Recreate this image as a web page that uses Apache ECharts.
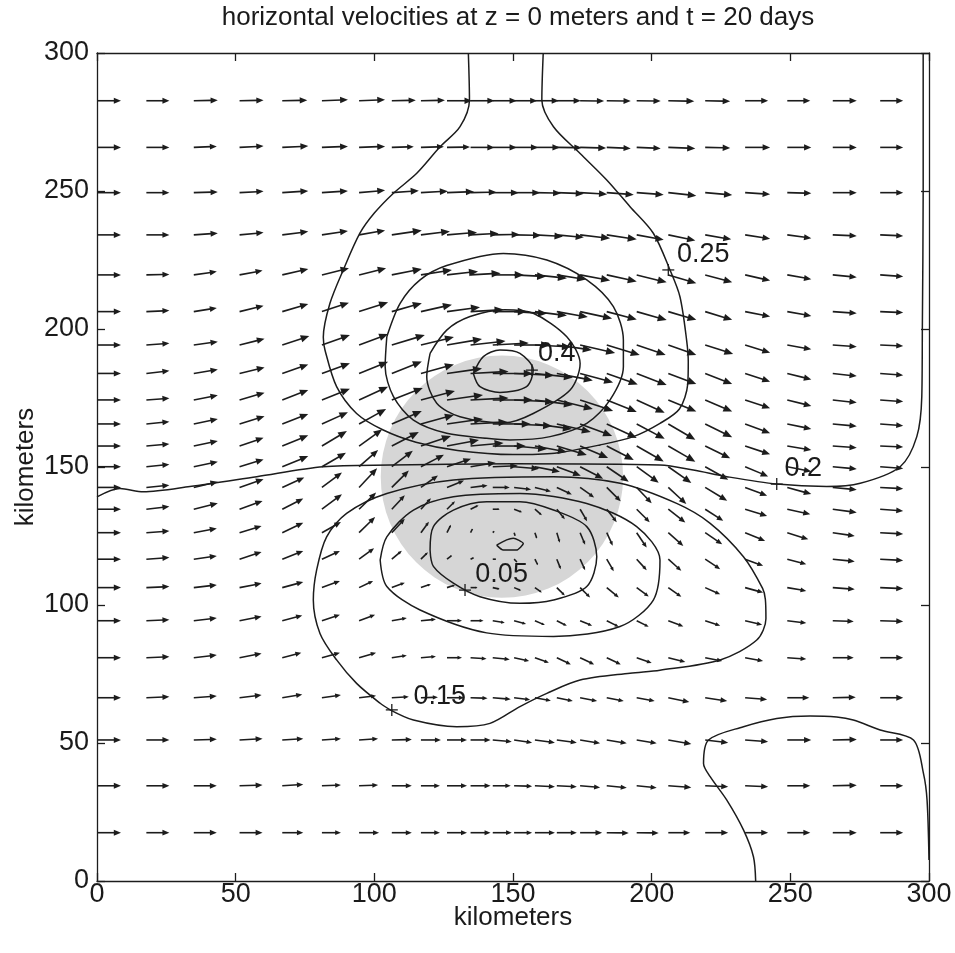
<!DOCTYPE html>
<html><head><meta charset="utf-8">
<script src="https://cdn.jsdelivr.net/npm/echarts/dist/echarts.min.js"></script>
<style>html,body{margin:0;padding:0;background:#fff}#c{width:955px;height:953px}</style>
</head><body><div id="c"></div><script>
// ---- data (km / cm/s) ----
const titleText = 'horizontal velocities at z = 0 meters and t = 20 days';
const axisTicks = [0, 50, 100, 150, 200, 250, 300];
const xGrid = [0,17.8,34.9,51.4,66.8,81.1,94.5,106.3,116.8,126.2,134.7,142.7,150.4,157.9,165.8,174.2,183.8,194.6,206,219.3,233.7,248.9,265.3,282.4];
const yGrid = [282.7,265.8,249.4,234.1,219.6,206.3,194.2,183.9,174.3,165.6,157.6,150.1,142.6,134.7,126.2,116.6,106.3,94.3,80.9,66.4,51.1,34.5,17.5];
// eastward velocity per row (cm/s)
const U = [
[24,23,24,24,25,26,26,24,24,25,24,24,23,24,24,24,24,24,26,25,23,23,24,23],
[24,23,23,24,26,26,26,22,23,23,24,24,24,25,25,26,24,24,27,25,25,24,24,23],
[24,23,24,24,26,26,26,27,27,27,26,26,26,26,27,27,27,27,28,27,25,24,24,23],
[24,23,24,24,26,26,26,30,29,30,28,27,27,28,27,30,30,27,27,26,25,24,24,23],
[24,23,23,23,26,27,27,30,31,31,30,31,32,32,29,30,30,30,28,27,25,24,24,23],
[24,23,23,24,26,27,29,30,31,33,33,34,33,32,31,32,30,30,28,27,25,24,24,23],
[24,23,24,25,27,28,29,33,33,35,35,36,36,36,35,35,33,29,28,28,25,24,24,23],
[24,23,24,25,26,28,29,30,33,35,38,40,40,38,36,33,31,30,28,27,25,24,24,23],
[24,23,24,25,26,28,29,31,34,36,38,40,40,38,36,33,30,28,28,27,25,24,24,23],
[24,23,24,25,26,26,27,30,33,36,37,38,38,37,34,32,30,28,27,27,25,24,24,23],
[24,23,24,24,26,25,23,27,30,32,33,33,33,32,30,28,27,27,27,25,25,24,24,23],
[24,23,24,24,26,24,19,21,23,24,25,25,25,25,24,23,22,22,23,23,23,24,24,23],
[24,23,24,24,22,20,18,17,17,17,17,17,17,16,15,14,14,15,18,22,22,24,24,23],
[24,23,24,23,21,20,17,13,10,8,8,7,8,7,8,7,10,13,17,18,22,23,24,23],
[24,23,23,22,21,19,16,13,8,4,2,1,1,2,3,5,6,10,15,17,20,21,22,23],
[24,23,23,22,21,18,15,10,7,5,3,3,3,3,4,5,7,10,13,15,18,19,22,23],
[24,23,23,22,21,18,14,13,10,8,7,7,7,7,8,10,12,12,13,15,18,19,22,23],
[24,23,23,22,20,18,16,15,15,15,13,12,12,10,10,12,12,12,15,15,17,19,21,23],
[24,23,23,22,19,18,17,15,15,15,16,17,15,14,14,14,14,15,17,17,18,19,21,23],
[24,23,23,22,20,19,17,17,17,17,17,18,16,16,16,17,17,18,21,22,22,22,23,23],
[24,23,23,23,21,19,19,20,20,20,20,19,18,20,20,20,20,20,23,23,23,24,24,23],
[24,23,23,23,21,19,19,20,19,20,20,18,18,20,20,20,20,20,23,23,23,23,24,23],
[24,23,23,23,21,19,20,20,19,20,20,19,18,20,20,22,22,22,22,23,23,23,24,23]
];
// northward velocity per row (cm/s)
const V = [
[0,0,0.5,0.5,0.5,1,1,0.5,0.5,0,0,0,0,0,0,-0.3,-0.3,-0.3,-0.5,-0.5,0,0,0,0],
[0,0,1,1.3,1.3,1,1,0.7,0.7,0.3,0,0,0,0,-0.3,-0.7,-1,-1,-1,-0.5,0,0,0,0],
[0,0,0.7,1.3,1.7,1.7,2.3,2,1.5,1,0.5,0,0,-0.5,-1,-1.5,-2,-2,-3,-2.3,-1.7,-0.7,0,0],
[0,0,1.7,2.3,3.3,4,4.5,4.5,3.5,2.5,1.5,0.5,-0.5,-1.5,-2.5,-3.5,-4.5,-5,-5.7,-4.5,-4,-3.3,-1,-1],
[0,0.5,3.3,4.3,6,6.7,6.7,6,5,3.5,1.7,0,-1.7,-3.3,-4.5,-5.5,-6.7,-7.5,-8.3,-7.3,-5.7,-4.3,-2.3,-1.7],
[0,1,3.7,6,7.7,9,9.3,8.5,7,4.5,2,0,-2,-4,-5.5,-7,-8,-8.5,-8.3,-8.3,-5,-4.3,-1.7,-1],
[0,1.7,3.3,6.3,9,10,11,10,8,6,4,2,0,-2,-5,-8,-10,-10,-10,-9,-7.7,-4.3,-1.7,-1],
[0,2.7,4,6,9,10.3,11.7,12,9,5,2,0,-2,-4,-7,-9,-11,-11.7,-10.7,-10.7,-8.3,-6,-2.7,-1.7],
[0,1.7,4.7,7.3,10,11.3,13.3,12,9,5,2,0,-2,-5,-9,-11,-12,-13,-11.7,-11.7,-8.3,-6,-2.7,-1.7],
[0,2.3,5,7.7,10,11.7,15,13,9,5,2,0,-2,-5,-8,-12,-14,-15,-16,-13.3,-9.3,-5,-2.3,-1.7],
[0,2,5,8.3,10.7,15,16.7,14,10,6,3,0,-3,-6,-9,-12,-14,-15.5,-15.7,-12.3,-8.3,-4,-1.7,-1],
[0,2.3,5,7.3,10.7,14,16.7,16,12,8,4,1,-2,-5,-9,-12,-15,-16,-16.3,-13,-9.7,-4.7,-2.3,-1.7],
[0,2.3,5.7,8.3,10,15,19.3,17,12,7,2,0,-2,-4,-7,-10,-14,-16,-16.7,-13.3,-8.3,-6.7,-2.3,-1.3],
[0,2.7,6,8.3,10.7,15,16.7,14,11,8,4,0,-3,-6,-10,-12,-13,-13,-13.3,-11.7,-6.7,-5,-3.3,-1.7],
[0,1.7,4.3,6.7,10,10.7,15.7,14,11,8,4,1,-3,-6,-10,-12,-13,-15,-13.3,-11.7,-8.3,-6.7,-3.3,-1.3],
[0,1.7,3.3,7.3,8.3,8.3,11,8.5,7,4,1.5,0,-3,-6,-10,-11,-12,-11,-11.7,-10,-6.7,-5,-2.3,-1.3],
[0,1,2.7,4.3,5.7,6.7,6.7,5,3.5,2.5,0,-1.5,-3,-5,-8,-10,-10,-9,-9.3,-6.7,-5,-3.3,-1.7,-1],
[0,1,2.7,4.3,5.3,6,6,2.7,1.5,0,0,-2,-3.3,-4.3,-5,-5,-6,-6,-5.7,-5,-4,-2.3,-0.7,-0.7],
[0,1,2.7,4.3,5,5,5,2.3,1.3,0,-1,-1.7,-3.3,-5,-6.7,-6.7,-6.7,-5.3,-4.3,-3.3,-3.3,-1.3,0,0],
[0,1,1.7,2.7,3.3,2.7,2,1,0.5,0,-0.5,-1.5,-2,-3,-3.3,-3.3,-3.3,-3.3,-4.3,-3.3,-1.7,0,0.5,0],
[0,0,0.7,1.3,1.3,1.3,1.3,0.5,0,0,0,-1.7,-2.7,-2.7,-2.7,-3.3,-3.3,-3.3,-4,-2.7,-1.7,0,0.5,0],
[0,0,0,0.7,1.3,0.7,0.7,0,0,0,0,0,-0.5,-1,-1,-1.7,-2,-2,-1.7,-1,-1,0,0.5,0],
[0,0,0,0,0,0,0,0,0,0,0,0,0,0,0,0,-0.3,-0.3,0,0,0,0,0,0]
];
// speed contours (km, km)
const c025 = [[133.9,300],[134.3,283],[130.9,273.3],[123.7,266],[115.3,256.4],[106.9,249.2],[100,242],[94.8,234.7],[88.8,221.4],[84,209.3],[81.6,197],[82.2,192.4],[86.4,179.1],[93.6,169.4],[103.2,163.4],[115,159],[130,156],[150,154.5],[165,155],[181.4,158],[193.4,161],[203,165.8],[210,171],[213,180],[213.2,188],[212.6,196],[210.2,211.7],[206.6,221.4],[200.6,234.7],[192.2,244.3],[183.8,254],[174.2,263.6],[164.6,273.3],[160.4,283],[160.9,300]];
const c030 = [[104.5,197.2],[109.3,209.3],[116.5,217.8],[126.1,223],[146.5,227.4],[162.2,225],[176.6,217.8],[186.2,208.1],[189.8,196],[189.8,186.3],[185,174.3],[176.6,165.8],[163.4,161],[148.9,159.8],[140.5,160.4],[126.1,162.2],[114.1,167],[106.9,175.5],[103.9,186.3],[104.5,197.2]];
const c035 = [[120.1,191.2],[126.1,199.6],[134.5,204.5],[147,207],[157.3,205.7],[169.4,197.2],[174.2,187.5],[170.6,177.9],[157.3,169.4],[147,166],[130.9,168.2],[122.5,173.1],[118.9,182.7],[120.1,191.2]];
const c040 = [[135.7,183.9],[139.3,190],[145.3,192.4],[152.5,191.2],[157.3,185.1],[154.9,179.1],[145.3,177],[138.1,179.1],[135.7,183.9]];
const c020a = [[0,139.2],[8.3,142.2],[16.7,141],[33.5,142.9],[57.6,146.5],[81.6,150.1],[105.7,150.7],[150,151.2],[203,150.7],[215,148.9],[227.1,146.5],[245.1,143.8],[263.1,142.9],[275.2,144.1],[289.6,150.1],[295.6,161],[297.4,175.5],[297.6,200],[297.9,250],[297.9,300]];
const c020b = [[237.5,0],[236.7,8.8],[233.1,18.5],[227.1,29.3],[221.1,37.8],[218.7,42.6],[220.5,51.1],[233.1,55.9],[245.1,58.9],[257.1,59.8],[266.7,59.4],[272.7,58.3],[282.4,54.7],[294.4,51.1],[298,39],[299.3,29.3],[300,7.6]];
const c015 = [[105.7,62],[114.1,58.3],[129.7,55.9],[141.7,57.1],[152.5,63.2],[162.2,68],[174.2,72.8],[192.2,75.3],[203,76.4],[224.7,80.1],[237.9,87.3],[241.2,95],[241,102],[240,106],[233.1,117.5],[221.1,129.6],[209,136.8],[188.6,144.1],[164.6,146.5],[128.5,145.3],[104.5,140.4],[90,133.2],[82.8,124.7],[79.2,112.7],[78,101.8],[80.4,89.7],[86.4,80.1],[93.6,71.6],[102.1,64.4],[105.7,62]];
const c010 = [[102.1,116.3],[104.5,124.7],[114.1,134.4],[128.5,139.2],[152.5,140.4],[176.6,136.8],[194.6,128.4],[203,116.3],[200.6,101.8],[188.6,92.2],[164.6,88.6],[140.5,89.9],[116.5,98.2],[104.5,106.7],[102.1,116.3]];
const c005 = [[120.1,119.9],[121.3,128.4],[128.5,134.4],[140.5,137.4],[152.5,137.4],[164.6,134.4],[176.6,128.4],[180.2,117.5],[176.6,106.7],[164.6,101.8],[152.5,100.6],[138.1,103],[128.5,107.9],[121.3,114],[120.1,119.9]];
const c000 = [[144.1,121.7],[147.7,123.6],[150.1,124.2],[153.7,122.3],[151.3,119.9],[146.5,119.9],[144.1,121.7]];
// contour labels
const labelText = ['0.25','0.4','0.2','0.05','0.15'];
const labelPos = [[218.6,226.8],[165.8,191.2],[254.7,149.5],[145.9,110.9],[123.6,66.8]];
const markPos = [[206,221.4],[156.8,185.1],[245.1,143.8],[132.7,105.4],[106.3,62]];
// shaded disk: centre x, centre y, radius (km)
const disk = [[146,146.5,43.8]];

// ---- drawing ----
const S = 0.3606; // km of arrow per cm/s
const INK = '#1c1c1c';
const FONT = '"Liberation Sans", Arial, Helvetica, sans-serif';
const arrows = [];
for (let i = 0; i < yGrid.length; i++)
  for (let j = 0; j < xGrid.length; j++)
    arrows.push([xGrid[j], yGrid[i], U[i][j], V[i][j]]);

function contour(data, smooth) {
  return { type: 'line', data: data, showSymbol: false, symbol: 'none', smooth: smooth,
    lineStyle: { color: INK, width: 1.5 }, z: 3, silent: true, animation: false };
}
const axisBase = { type: 'value', min: 0, max: 300, interval: 50,
  axisLine: { show: true, onZero: false, lineStyle: { color: INK, width: 1.3 } },
  axisTick: { show: true, inside: true, length: 8, lineStyle: { color: INK, width: 1.3 } },
  splitLine: { show: false } };
const labelStyle = { fontFamily: FONT, fontSize: 27, color: '#1a1a1a' };

const chart = echarts.init(document.getElementById('c'), null, { renderer: 'canvas' });
chart.setOption({
  animation: false,
  backgroundColor: '#fff',
  title: { text: titleText, left: 513, top: 0, textAlign: 'center',
    textStyle: { fontFamily: FONT, fontSize: 26, fontWeight: 'normal', color: '#1a1a1a' } },
  grid: { left: 97, right: 26, top: 53, bottom: 72, containLabel: false },
  xAxis: [
    Object.assign({}, axisBase, { position: 'bottom', name: 'kilometers', nameLocation: 'middle', nameGap: 24,
      nameMoveOverlap: false,
      nameTextStyle: Object.assign({}, labelStyle, { fontSize: 26 }),
      axisLabel: Object.assign({ margin: 0 }, labelStyle) }),
    Object.assign({}, axisBase, { position: 'top', axisLabel: { show: false } })
  ],
  yAxis: [
    Object.assign({}, axisBase, { position: 'left', name: 'kilometers', nameLocation: 'middle', nameGap: 58,
      nameMoveOverlap: false,
      nameTextStyle: Object.assign({}, labelStyle, { fontSize: 26 }),
      axisLabel: Object.assign({ margin: 8 }, labelStyle) }),
    Object.assign({}, axisBase, { position: 'right', axisLabel: { show: false } })
  ],
  series: [
    { type: 'custom', data: disk, z: 1, silent: true,
      renderItem: function (params, api) {
        const c = api.coord([api.value(0), api.value(1)]);
        const r = api.size([api.value(2), api.value(2)]);
        return { type: 'circle', shape: { cx: c[0], cy: c[1], r: (r[0] + r[1]) / 2 },
          style: { fill: '#d6d6d6' } };
      } },
    contour(c025, 0.3), contour(c030, 0.3), contour(c035, 0.3), contour(c040, 0.3),
    contour(c020a, 0.3), contour(c020b, 0.3), contour(c015, 0.3), contour(c010, 0.3),
    contour(c005, 0.3), contour(c000, 0.2),
    { type: 'custom', data: arrows, z: 4, silent: true,
      renderItem: function (params, api) {
        const x = api.value(0), y = api.value(1), u = api.value(2), v = api.value(3);
        const p0 = api.coord([x, y]);
        const p1 = api.coord([x + u * S, y + v * S]);
        const dx = p1[0] - p0[0], dy = p1[1] - p0[1];
        const L = Math.hypot(dx, dy);
        if (L < 0.5) return null;
        const ux = dx / L, uy = dy / L;
        const hl = Math.min(L * 0.3, 9), hw = hl * 0.42;
        const bx = p1[0] - ux * hl, by = p1[1] - uy * hl;
        return { type: 'group', children: [
          { type: 'line', shape: { x1: p0[0], y1: p0[1], x2: bx + ux, y2: by + uy },
            style: { stroke: INK, lineWidth: 1.6 } },
          { type: 'polygon', shape: { points: [[p1[0], p1[1]], [bx - uy * hw, by + ux * hw], [bx + uy * hw, by - ux * hw]] },
            style: { fill: INK } }
        ] };
      } },
    { type: 'custom', data: markPos, z: 5, silent: true,
      renderItem: function (params, api) {
        const p = api.coord([api.value(0), api.value(1)]);
        return { type: 'group', children: [
          { type: 'line', shape: { x1: p[0] - 6, y1: p[1], x2: p[0] + 6, y2: p[1] }, style: { stroke: INK, lineWidth: 1.3 } },
          { type: 'line', shape: { x1: p[0], y1: p[1] - 6, x2: p[0], y2: p[1] + 6 }, style: { stroke: INK, lineWidth: 1.3 } }
        ] };
      } },
    { type: 'custom', data: labelPos, z: 6, silent: true,
      renderItem: function (params, api) {
        const p = api.coord([api.value(0), api.value(1)]);
        return { type: 'text', x: p[0], y: p[1],
          style: { text: labelText[params.dataIndex], fill: '#1a1a1a', align: 'center', verticalAlign: 'middle',
            font: '27px ' + FONT } };
      } }
  ]
});
</script></body></html>
